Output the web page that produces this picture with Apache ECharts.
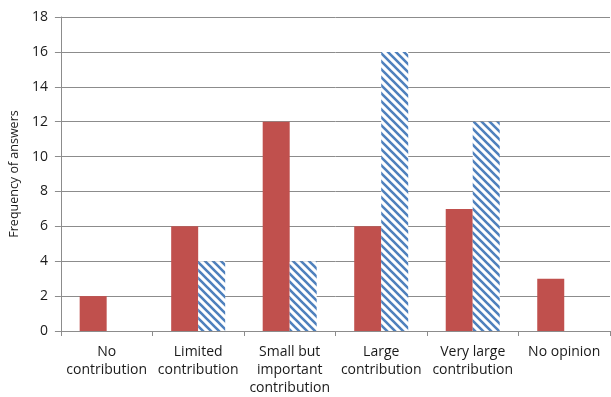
<!DOCTYPE html>
<html>
<head>
<meta charset="utf-8">
<script src="https://cdn.jsdelivr.net/npm/echarts@6/dist/echarts.min.js"></script>
<style>
  html, body { margin: 0; padding: 0; background: #fff; }
  #chart { width: 611px; height: 397px; }
</style>
</head>
<body>
<div id="chart"></div>
<script>
// Answer categories and the two sets of counts
const categories = [
  'No\ncontribution',
  'Limited\ncontribution',
  'Small but\nimportant\ncontribution',
  'Large\ncontribution',
  'Very large\ncontribution',
  'No opinion'
];
const solidCounts = [2, 6, 12, 6, 7, 3];
const hatchedCounts = [0, 4, 4, 16, 12, 0];
const yTicks = { min: 0, max: 18, step: 2 };

// Diagonal blue stripes on white for the second series
function stripePattern() {
  const size = 8;
  const c = document.createElement('canvas');
  c.width = size; c.height = size;
  const g = c.getContext('2d');
  g.fillStyle = '#ffffff';
  g.fillRect(0, 0, size, size);
  g.strokeStyle = '#4f81bd';
  g.lineWidth = 2.6;
  g.beginPath();
  for (let k = -2; k <= 2; k++) {
    g.moveTo(k * size - 2, -2);
    g.lineTo(k * size + size + 2, size + 2);
  }
  g.stroke();
  return c;
}

const chart = echarts.init(document.getElementById('chart'), null, { renderer: 'canvas' });
const font = '"Open Sans", "Liberation Sans", sans-serif';

chart.setOption({
  animation: false,
  textStyle: { fontFamily: font },
  grid: { left: 60, right: 1, top: 17, bottom: 66 },
  xAxis: {
    type: 'category',
    data: categories,
    axisLine: { lineStyle: { color: '#8c8c8c' } },
    axisTick: { show: true, length: 5, lineStyle: { color: '#8c8c8c' } },
    axisLabel: {
      color: '#1a1a1a', fontSize: 14, lineHeight: 18, margin: 12, interval: 0,
      fontFamily: font
    }
  },
  yAxis: {
    type: 'value',
    min: yTicks.min, max: yTicks.max, interval: yTicks.step,
    name: 'Frequency of answers',
    nameLocation: 'middle',
    nameGap: 33,
    nameTextStyle: { color: '#1a1a1a', fontSize: 12.5, fontFamily: font },
    axisLine: { show: true, lineStyle: { color: '#8c8c8c' } },
    axisTick: { show: true, length: 6, lineStyle: { color: '#8c8c8c' } },
    axisLabel: { color: '#1a1a1a', fontSize: 14, margin: 13, fontFamily: font },
    splitLine: { lineStyle: { color: '#8c8c8c' } }
  },
  series: [
    {
      type: 'bar',
      data: solidCounts,
      barWidth: 27,
      barGap: '0%',
      itemStyle: { color: '#c0504d' }
    },
    {
      type: 'bar',
      data: hatchedCounts,
      barWidth: 27,
      barGap: '0%',
      itemStyle: { color: { image: stripePattern(), repeat: 'repeat' } }
    }
  ]
});
</script>
</body>
</html>
